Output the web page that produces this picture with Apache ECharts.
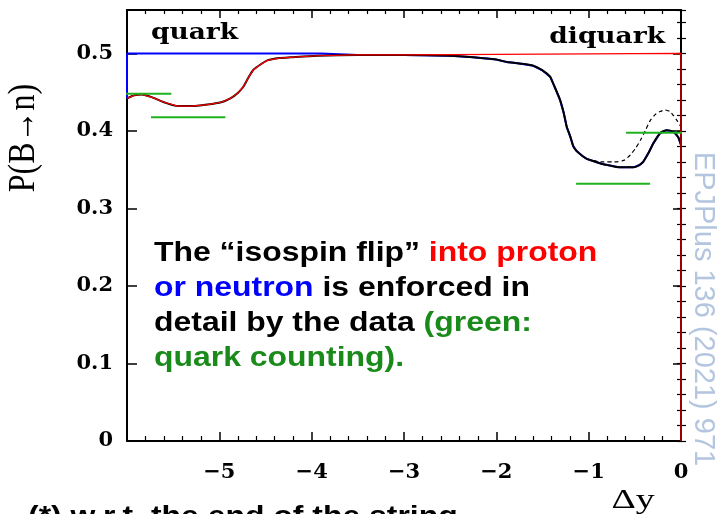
<!DOCTYPE html>
<html>
<head>
<meta charset="utf-8">
<script src="https://cdn.jsdelivr.net/npm/echarts@6/dist/echarts.min.js"></script>
<style>html,body{margin:0;padding:0;background:#fff}#main{width:717px;height:514px}</style>
</head>
<body>
<div id="main"></div>
<script>
// P(B->n) against rapidity distance Δy from the string end
const dySolid = [-6.0, -5.92, -5.84, -5.72, -5.6, -5.45, -5.3, -5.13, -4.98, -4.88, -4.8, -4.74, -4.68, -4.63, -4.55, -4.48, -4.35, -4.23, -3.94, -3.5, -3.0, -2.5, -2.25, -2.0, -1.886, -1.75, -1.6, -1.5, -1.418, -1.38, -1.31, -1.27, -1.237, -1.2, -1.166, -1.13, -1.06, -1.02, -0.92, -0.84, -0.66, -0.516, -0.45, -0.41, -0.35, -0.3, -0.227, -0.155, -0.083, -0.03, 0];
const pSolid = [0.442, 0.446, 0.447, 0.443, 0.437, 0.432, 0.432, 0.434, 0.437, 0.442, 0.449, 0.457, 0.47, 0.479, 0.486, 0.491, 0.494, 0.495, 0.497, 0.498, 0.498, 0.497, 0.495, 0.492, 0.489, 0.487, 0.484, 0.478, 0.47, 0.46, 0.44, 0.423, 0.405, 0.393, 0.38, 0.374, 0.367, 0.364, 0.36, 0.357, 0.353, 0.353, 0.356, 0.36, 0.372, 0.384, 0.397, 0.401, 0.399, 0.392, 0.382];
// dashed variant, only where it leaves the solid curve
const dyDashed = [-1.02, -0.92, -0.84, -0.72, -0.62, -0.55, -0.49, -0.44, -0.38, -0.335, -0.28, -0.227, -0.173, -0.12, -0.083, -0.04, 0];
const pDashed = [0.364, 0.361, 0.36, 0.36, 0.362, 0.369, 0.378, 0.388, 0.402, 0.413, 0.421, 0.425, 0.427, 0.425, 0.42, 0.413, 0.405];
// quark counting levels (green)
const greenLevel = [0.448, 0.4175, 0.332, 0.3975];
const greenFrom = [-6.32, -5.74, -1.136, -0.595];
const greenTo = [-5.52, -4.935, -0.335, 0.17];
const halfLevel = 0.5;
const redSwitch = -3.0;
const blueSwitch = -3.9;

const solid = dySolid.map((x, i) => [x, pSolid[i]]);
const dashed = dyDashed.map((x, i) => [x, pDashed[i]]);
const red = solid.filter(p => p[0] <= redSwitch).concat([[redSwitch, halfLevel], [0, halfLevel], [0, 0]]);
const blue = [[dySolid[0], pSolid[0]], [dySolid[0], halfLevel], [blueSwitch, halfLevel]].concat(solid.filter(p => p[0] > blueSwitch));

const chart = echarts.init(document.getElementById('main'));

const serifBold = { fontFamily: 'DejaVu Serif', fontWeight: 'bold', fontSize: 21, color: '#000' };
const frameLine = { show: true, onZero: false, lineStyle: { color: '#000', width: 2 } };

const greenSeries = greenLevel.map((y, i) => ({
  type: 'line',
  data: [[greenFrom[i], y], [greenTo[i], y]],
  symbol: 'none',
  clip: false,
  z: 6,
  lineStyle: { color: '#1fb21f', width: 2 }
}));

const txt = 'bold 28px "Liberation Sans"';

chart.setOption({
  animation: false,
  grid: { left: 127, right: 36, top: 10, bottom: 73 },
  xAxis: [
    {
      type: 'value', min: -6, max: 0, interval: 1, position: 'bottom',
      axisLine: frameLine,
      axisTick: { show: true, inside: true, length: 9, lineStyle: { color: '#000', width: 1.5 } },
      minorTick: { show: true, splitNumber: 5, length: 5, lineStyle: { color: '#000', width: 1.2 } },
      splitLine: { show: false },
      axisLabel: Object.assign({ margin: 21, showMinLabel: false, formatter: v => v === 0 ? '0' : '\u2212' + Math.abs(v) }, serifBold)
    },
    {
      type: 'value', min: -6, max: 0, interval: 1, position: 'top',
      axisLine: frameLine,
      axisTick: { show: true, inside: true, length: 8, lineStyle: { color: '#000', width: 1.5 } },
      minorTick: { show: true, splitNumber: 5, length: 4, lineStyle: { color: '#000', width: 1.2 } },
      splitLine: { show: false },
      axisLabel: { show: false }
    }
  ],
  yAxis: [
    {
      type: 'value', min: 0, max: 0.556, interval: 0.1, position: 'left',
      axisLine: frameLine,
      axisTick: { show: true, inside: true, length: 10, lineStyle: { color: '#000', width: 1.5 } },
      splitLine: { show: false },
      axisLabel: Object.assign({ margin: 14, showMaxLabel: false, formatter: v => v === 0 ? '0' : v.toFixed(1) }, serifBold)
    },
    {
      type: 'value', min: 0, max: 0.556, interval: 0.1, position: 'right',
      axisLine: frameLine,
      axisTick: { show: true, inside: true, length: 8, lineStyle: { color: '#000', width: 1.5 } },
      splitLine: { show: false },
      axisLabel: { show: false }
    },
    {
      type: 'value', min: 0, max: 0.556, interval: 0.02, position: 'left',
      axisLine: { show: false },
      axisTick: { show: true, inside: true, length: 5, lineStyle: { color: '#000', width: 1.2 } },
      splitLine: { show: false },
      axisLabel: { show: false }
    },
    {
      type: 'value', min: 0, max: 0.556, interval: 0.02, position: 'right',
      axisLine: { show: false },
      axisTick: { show: true, inside: true, length: 4, lineStyle: { color: '#000', width: 1.2 } },
      splitLine: { show: false },
      axisLabel: { show: false }
    }
  ],
  series: [
    { type: 'line', data: blue, symbol: 'none', z: 2, lineStyle: { color: '#0000ff', width: 2 } },
    { type: 'line', data: solid, symbol: 'none', smooth: 0.25, z: 3, lineStyle: { color: '#000', width: 2 } },
    { type: 'line', data: dashed, symbol: 'none', smooth: 0.25, z: 3, lineStyle: { color: '#000', width: 1.2, type: [4, 3] } },
    { type: 'line', data: red, symbol: 'none', z: 4, clip: false, lineStyle: { color: '#ff0000', width: 1.2 } }
  ].concat(greenSeries),
  graphic: [
    { type: 'text', x: 24, y: 138, rotation: Math.PI / 2, scaleY: 1.2,
      style: { text: 'P(B\u2192n)', font: '32px "Liberation Serif"', fill: '#000', align: 'center', verticalAlign: 'middle' } },
    { type: 'text', x: 151, y: 33, scaleX: 1.15,
      style: { text: 'quark', font: 'bold 23px "DejaVu Serif"', fill: '#000', align: 'left', verticalAlign: 'middle' } },
    { type: 'text', x: 665, y: 37, scaleX: 1.15,
      style: { text: 'diquark', font: 'bold 23px "DejaVu Serif"', fill: '#000', align: 'right', verticalAlign: 'middle' } },
    { type: 'text', x: 633, y: 501, scaleX: 1.35,
      style: { text: '\u0394y', font: '28px "Liberation Serif"', fill: '#000', align: 'center', verticalAlign: 'middle' } },
    { type: 'text', x: 703, y: 309, rotation: -Math.PI / 2,
      style: { text: 'EPJPlus 136 (2021) 971', font: '29px "Liberation Sans"', fill: '#b3c5df', align: 'center', verticalAlign: 'middle' } },
    { type: 'text', x: 28, y: 503, scaleX: 1.14,
      style: { text: '(*) w.r.t. the end of the string', font: txt, fill: '#000', align: 'left', verticalAlign: 'top' } },
    { type: 'text', x: 154, y: 236, scaleX: 1.14,
      style: {
        text: 'The \u201cisospin flip\u201d {r|into proton}\n{b|or neutron} is enforced in\ndetail by the data {g|(green:}\n{g|quark counting).}',
        font: txt, fill: '#000', lineHeight: 35, align: 'left', verticalAlign: 'top',
        rich: {
          r: { font: txt, fill: '#ff0000', lineHeight: 35 },
          b: { font: txt, fill: '#0000ff', lineHeight: 35 },
          g: { font: txt, fill: '#1a8a1a', lineHeight: 35 }
        }
      } }
  ]
});
</script>
</body>
</html>
